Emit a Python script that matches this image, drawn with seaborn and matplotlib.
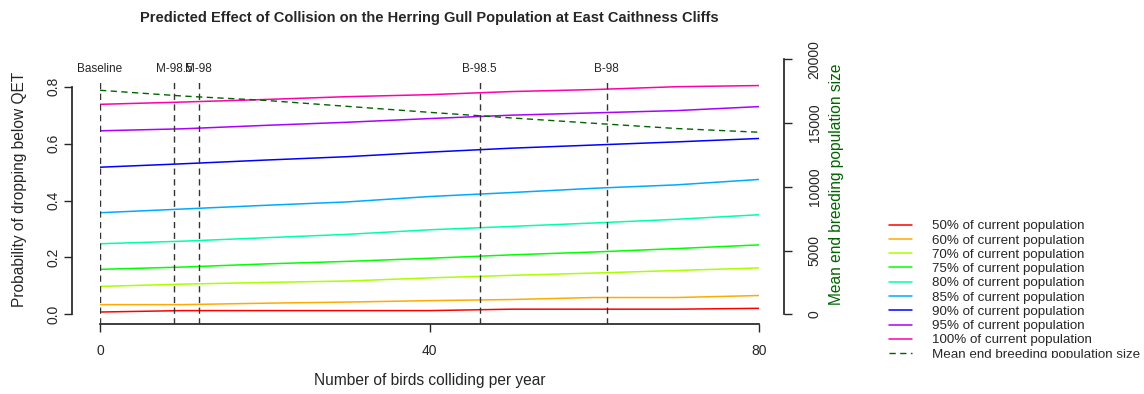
import numpy as np
import pandas as pd
import seaborn as sns
import matplotlib.pyplot as plt
from matplotlib.patches import Rectangle

# values (every 10 birds)
birds = [0, 10, 20, 30, 40, 50, 60, 70, 80]

# probability of dropping below the QET, one list per threshold
p50 = [0.008, 0.013, 0.013, 0.013, 0.013, 0.018, 0.018, 0.018, 0.021]
p60 = [0.034, 0.034, 0.039, 0.043, 0.048, 0.052, 0.059, 0.059, 0.066]
p70 = [0.098, 0.106, 0.112, 0.117, 0.128, 0.137, 0.145, 0.154, 0.163]
p75 = [0.158, 0.166, 0.177, 0.186, 0.197, 0.209, 0.219, 0.231, 0.244]
p80 = [0.248, 0.257, 0.269, 0.281, 0.297, 0.309, 0.321, 0.334, 0.350]
p85 = [0.357, 0.370, 0.383, 0.395, 0.414, 0.428, 0.443, 0.455, 0.474]
p90 = [0.517, 0.529, 0.542, 0.554, 0.570, 0.584, 0.595, 0.606, 0.618]
p95 = [0.645, 0.652, 0.664, 0.675, 0.688, 0.700, 0.708, 0.716, 0.730]
p100 = [0.738, 0.746, 0.755, 0.765, 0.772, 0.783, 0.790, 0.800, 0.804]

# mean end breeding population size (right axis)
mean_pop = [17570, 17120, 16780, 16310, 15840, 15400, 14980, 14570, 14280]

thresholds = ["50%", "60%", "70%", "75%", "80%", "85%", "90%", "95%", "100%"]
line_colors = ["#FF0000", "#FFAA00", "#AAFF00", "#00FF00", "#00FFAA",
               "#00AAFF", "#0000FF", "#AA00FF", "#FF00AA"]

# scenario markers
marker_x = [0, 9, 12, 46.1, 61.5]
marker_labels = ["Baseline", "M-98.5", "M-98", "B-98.5", "B-98"]

title = "Predicted Effect of Collision on the Herring Gull Population at East Caithness Cliffs"

# long table for seaborn
series = [p50, p60, p70, p75, p80, p85, p90, p95, p100]
names = [t + " of current population" for t in thresholds]
df = pd.DataFrame({
    "birds": birds * len(series),
    "prob": [v for s in series for v in s],
    "level": [n for n in names for _ in birds],
})
pop_df = pd.DataFrame({"birds": birds, "pop": mean_pop})

sns.set_theme(style="ticks")
plt.rcParams["font.family"] = ["Liberation Sans", "DejaVu Sans"]

W, H = 1144, 394
fig = plt.figure(figsize=(W / 100, H / 100), dpi=100)
ax = fig.add_axes([100 / W, 70 / H, 659 / W, 269 / H])

# pixel geometry of the reference: y of zero = 314.3 px from the top
zero_px, top_px, bot_px = 314.3, 55, 324
ax.set_ylim((zero_px - bot_px) / 284.5, (zero_px - top_px) / 284.5)
ax.set_xlim(0, 80)

sns.lineplot(data=df, x="birds", y="prob", hue="level", hue_order=names,
             palette=line_colors, linewidth=1.1, errorbar=None, legend=False, ax=ax)
handles = list(ax.get_lines()[:len(names)])

# scenario lines
for xv, lab in zip(marker_x, marker_labels):
    ax.axvline(xv, ymin=0, ymax=(bot_px - 79) / (bot_px - top_px),
               color="#333333", lw=1.0, dashes=(4.5, 3.2), zorder=3)
    ax.text(xv, (zero_px - 69) / 284.5, lab, ha="center", va="center", fontsize=8.5)

ax2 = ax.twinx()
ax2.set_ylim((zero_px - bot_px) / 0.01275, (zero_px - top_px) / 0.01275)
sns.lineplot(data=pop_df, x="birds", y="pop", color="#006400", linewidth=1.0,
             errorbar=None, ax=ax2)
pop_line = ax2.get_lines()[0]
pop_line.set_dashes((4.5, 3.2))
handles.append(pop_line)

# axes styling, R look
sns.despine(ax=ax, offset={"left": 20})
ax.spines["left"].set_bounds(0, 0.8)
ax.spines["bottom"].set_bounds(0, 80)
ax.set_xticks([0, 40, 80])
ax.set_yticks([0, 0.2, 0.4, 0.6, 0.8])
ax.set_yticklabels(["0.0", "0.2", "0.4", "0.6", "0.8"])
ax.tick_params(axis="x", length=5.5, width=1, pad=9, labelsize=10)
ax.tick_params(axis="y", length=5.5, width=1, pad=3.0, labelsize=10)
for lab in ax.get_yticklabels():
    lab.set_rotation(90)
    lab.set_va("center")

sns.despine(ax=ax2, left=True, bottom=True, right=False, offset={"right": 18})
ax2.spines["right"].set_bounds(0, 20000)
ax2.set_yticks([0, 5000, 10000, 15000, 20000])
ax2.tick_params(axis="y", which="major", right=True, left=False,
                labelright=True, labelleft=False, direction="out",
                length=5.5, width=1, color="#262626", pad=11.5, labelsize=10)
for lab in ax2.get_yticklabels():
    lab.set_rotation(90)
    lab.set_va("center")
    lab.set_ha("left")

ax.set_xlabel("Number of birds colliding per year", fontsize=11.2)
ax.xaxis.set_label_coords(0.5, -(373 - bot_px) / (bot_px - top_px))
ax.set_ylabel("Probability of dropping below QET", fontsize=11.2)
ax.yaxis.set_label_coords((27 - 100) / 659, 0.5)
ax2.set_ylabel("Mean end breeding population size", fontsize=11.2, color="#006400")
ax2.yaxis.set_label_coords((829 - 100) / 659, 0.52)

fig.text(429.5 / W, 1 - 18 / H, title, ha="center", va="center",
         fontsize=10.5, fontweight="bold")

fig.legend(handles, names + ["Mean end breeding population size"],
           loc="upper left", bbox_to_anchor=(889 / W, 1 - 220 / H),
           frameon=False, fontsize=9.6, handlelength=1.75, handletextpad=1.45,
           labelspacing=0.145, borderpad=0, borderaxespad=0)
# the reference legend is cut off at the bottom
fig.add_artist(Rectangle((870 / W, 0), (W - 870) / W, (H - 358) / H,
                         transform=fig.transFigure, color="white", zorder=10))

fig.savefig("out.png", dpi=100)
